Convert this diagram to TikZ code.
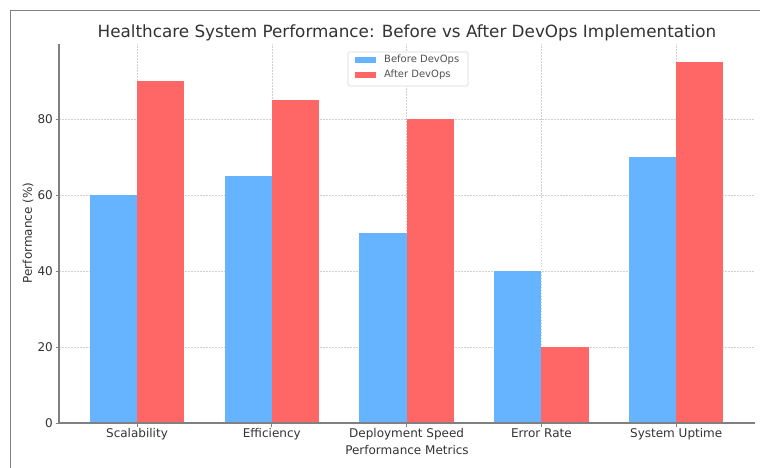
\documentclass[tikz,border=0pt]{standalone}
\usepackage{fontspec}
\setmainfont{DejaVu Sans}
\definecolor{bluebar}{HTML}{66B3FF}
\definecolor{redbar}{HTML}{FF6666}
\definecolor{spinec}{HTML}{808080}
\definecolor{gridc}{HTML}{D0D0D0}
\definecolor{textc}{HTML}{333333}
\definecolor{legc}{HTML}{D8D8D8}
\begin{document}
\begin{tikzpicture}[x=1pt,y=-1pt,
  framestyle/.style={draw=spinec,line width=1pt},
  spinestyle/.style={draw=spinec,line width=1.1pt},
  gridstyle/.style={draw=gridc,line width=0.6pt,dash pattern=on 1.5pt off 1.5pt},
  blueb/.style={fill=bluebar},
  redb/.style={fill=redbar},
  ticklab/.style={font=\fontsize{12}{14}\selectfont,text=textc,inner sep=0pt},
  titlestyle/.style={font=\fontsize{16.8}{20}\selectfont,text=textc,inner sep=0pt},
  leglab/.style={font=\fontsize{10}{12}\selectfont,text=textc!85,inner sep=0pt,anchor=west},
  legbox/.style={draw=legc,fill=white,rounded corners=1.5pt,line width=0.7pt}]
\useasboundingbox (0,0) rectangle (760,468);
\fill[white] (0,0) rectangle (760,468);
% outer frame
\coordinate (fbl) at (10.5,468);
\coordinate (ftl) at (10.5,11);
\coordinate (ftr) at (760,11);
\draw[framestyle] (fbl) -- (ftl) -- (ftr);
% axes corners
\coordinate (o) at (59,423);
\coordinate (ytop) at (59,44);
\coordinate (xend) at (755,423);
% horizontal grid
\foreach \v in {20,40,60,80}{
  \coordinate (gl\v) at (59,{423-3.8*\v});
  \coordinate (gr\v) at (755,{423-3.8*\v});
  \draw[gridstyle] (gl\v) -- (gr\v);
}
% vertical grid
\foreach \i in {0,...,4}{
  \coordinate (gb\i) at ({137+134.8*\i},423);
  \coordinate (gt\i) at ({137+134.8*\i},44);
  \draw[gridstyle] (gb\i) -- (gt\i);
}
% bars
\foreach \i/\b/\a/\lab in {0/60/90/Scalability,1/65/85/Efficiency,2/50/80/Deployment Speed,3/40/20/Error Rate,4/70/95/System Uptime}{
  \pgfmathsetmacro{\cx}{137+134.8*\i}
  \fill[blueb] ({\cx-47.2},423) rectangle ({\cx},{423-3.8*\b});
  \fill[redb] ({\cx},423) rectangle ({\cx+47.2},{423-3.8*\a});
  \coordinate (xt\i) at (\cx,423);
  \coordinate (xtb\i) at (\cx,426.5);
  \draw[spinestyle,line width=0.8pt] (xt\i) -- (xtb\i);
  \node[ticklab,anchor=base] (xl\i) at (\cx,437.5) {\lab};
}
% y ticks
\foreach \v in {0,20,40,60,80}{
  \coordinate (yt\v) at (59,{423-3.8*\v});
  \coordinate (ytl\v) at (55.5,{423-3.8*\v});
  \draw[spinestyle,line width=0.8pt] (yt\v) -- (ytl\v);
  \node[ticklab,anchor=east] (yl\v) at (53,{423-3.8*\v}) {\v};
}
% spines
\draw[spinestyle] (ytop) -- (o) -- (xend);
% axis labels
\node[ticklab,anchor=base] (xlabel) at (407,454) {Performance Metrics};
\node[ticklab,rotate=90] (ylabel) at (28,233) {Performance (\%)};
% title
\node[titlestyle] (title) at (407,33) {Healthcare System Performance: Before vs After DevOps Implementation};
% legend
\node[legbox,minimum width=120pt,minimum height=34pt,inner sep=0pt] (legend) at (408,69) {};
\fill[blueb] (355,57) rectangle (376,63);
\fill[redb] (355,72) rectangle (376,78);
\node[leglab] (lb) at (384,60) {Before DevOps};
\node[leglab] (la) at (384,75) {After DevOps};
\end{tikzpicture}
\end{document}
